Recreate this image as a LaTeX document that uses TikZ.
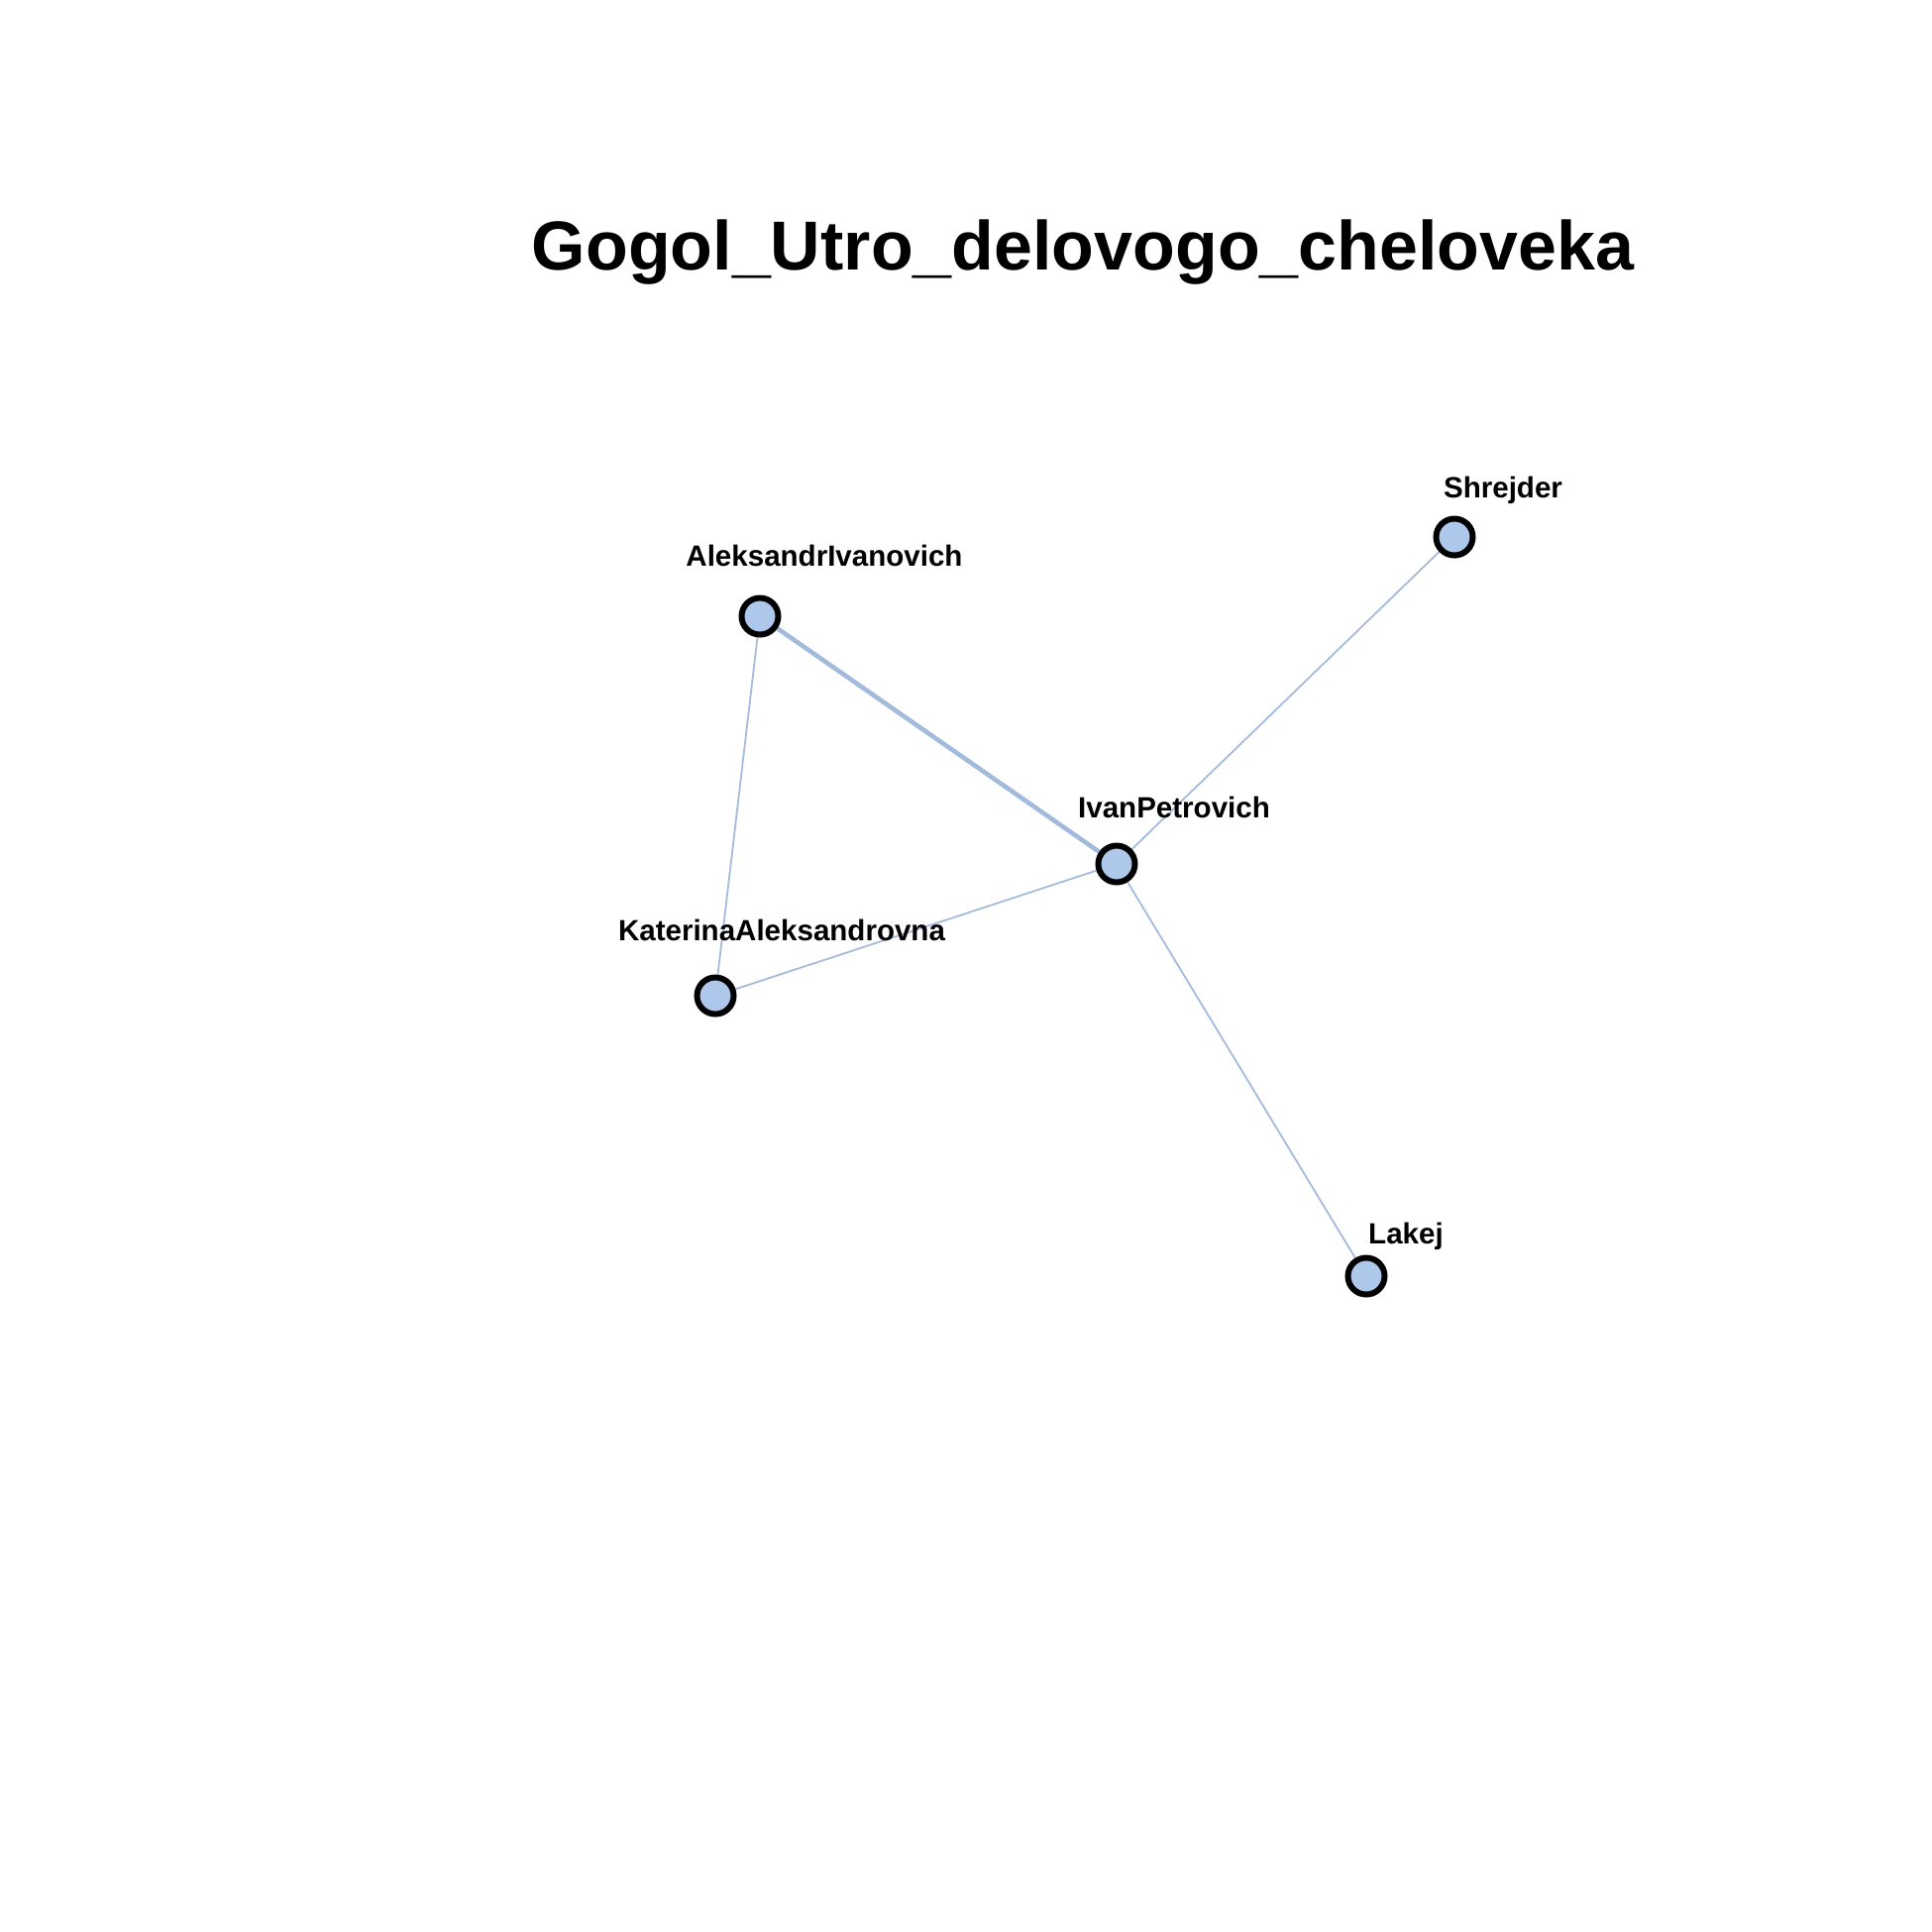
\documentclass[tikz,border=0pt]{standalone}
\usepackage{fontspec}
\setmainfont{Liberation Sans}
\usepackage{xcolor}
\usetikzlibrary{backgrounds}
\definecolor{netFill}{HTML}{ADC8EB}
\definecolor{netEdge}{HTML}{A2BADC}
\begin{document}
\begin{tikzpicture}[x=0.01cm, y=-0.01cm]
            \tikzset{
                actor/.style={circle, draw, line width=1.7pt, fill=netFill, minimum size=0.37cm, inner sep=0pt},
                actorName/.style={anchor=base, inner sep=0pt, font=\fontsize{8.4}{10}\selectfont\bfseries}
            }

            \node[anchor=base, inner sep=0pt, font=\fontsize{19.9}{24}\selectfont\bfseries] (title) at (1093,272) {Gogol\_Utro\_delovogo\_cheloveka};

            \node[actor] (ai) at (767,622) {};
            \node[actor] (sh) at (1468,542) {};
            \node[actor] (ip) at (1127,872) {};
            \node[actor] (ka) at (722,1005) {};
            \node[actor] (la) at (1379,1288) {};

            \node[actorName] (aiName) at (832,571) {AleksandrIvanovich};
            \node[actorName] (shName) at (1517,502) {Shrejder};
            \node[actorName] (ipName) at (1185,825) {IvanPetrovich};
            \node[actorName] (kaName) at (789,949) {KaterinaAleksandrovna};
            \node[actorName] (laName) at (1419,1255) {Lakej};

            \begin{pgfonlayer}{background}
            \fill[white] (0,0) rectangle (1950,1950);
            \path[draw=netEdge, line width=0.5pt]
                (ai) edge (ka)
                (ka) edge (ip)
                (ip) edge (sh)
                (ip) edge (la)
            ;
            \path[draw=netEdge, line width=1.3pt]
                (ai) edge (ip)
            ;
            \end{pgfonlayer}
        \end{tikzpicture}
\end{document}
